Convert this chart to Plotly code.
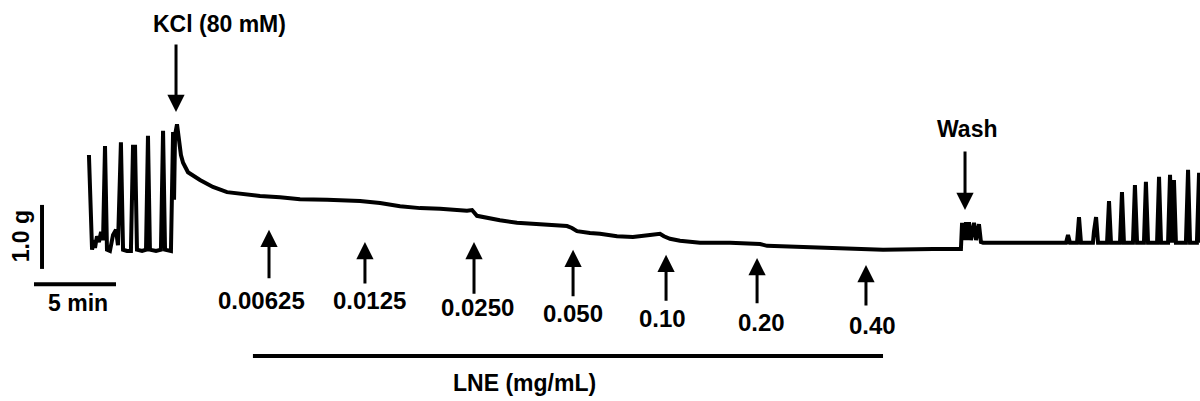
import plotly.graph_objects as go

# ---- isometric tension trace (time in min, tension in g above resting trough) ----
pre_t = [3.35, 3.54, 3.66, 3.72, 3.84, 3.96, 4.09, 4.21, 4.33, 4.45, 4.63, 4.82, 5.00, 5.12,
         5.30, 5.43, 5.67, 5.91, 6.04, 6.10, 6.16, 6.28, 6.59, 6.83, 6.95, 7.07, 7.44, 7.74,
         7.87, 7.99, 8.35, 8.48, 8.54, 8.60]
pre_g = [1.50, 0.02, 0.17, 0.05, 0.23, 0.14, 0.30, 0.17, 1.64, 0.02, 0.00, 0.25, 0.33, 0.09,
         1.70, 0.02, 0.00, 0.00, 1.66, 0.80, 1.66, 0.02, 0.00, 0.02, 1.80, 0.02, 0.00, 0.02,
         1.88, 0.02, 0.00, 1.86, 0.80, 1.81]

kcl_t = [8.72, 8.84, 8.96, 9.09, 9.39, 10.12, 10.91, 11.77, 12.87, 13.78, 15.00, 16.22, 17.87,
         19.88, 21.10, 22.32, 23.54, 24.76, 26.40, 26.71, 27.01, 27.50, 28.41, 29.45, 30.85,
         32.07, 32.50, 32.80, 33.11, 33.90, 34.51, 35.55, 36.52, 37.56, 38.17, 38.41, 38.78,
         39.39, 40.61, 42.44, 44.27, 44.70, 46.71, 48.72, 51.77, 54.82, 56.46]
kcl_g = [1.98, 1.73, 1.50, 1.38, 1.23, 1.11, 1.00, 0.92, 0.88, 0.86, 0.84, 0.81, 0.80,
         0.78, 0.75, 0.70, 0.67, 0.66, 0.63, 0.64, 0.55, 0.52, 0.48, 0.44, 0.41,
         0.39, 0.39, 0.36, 0.31, 0.28, 0.27, 0.23, 0.22, 0.25, 0.27, 0.23, 0.19,
         0.16, 0.13, 0.13, 0.11, 0.08, 0.06, 0.05, 0.02, 0.03, 0.03]

wash_t = [56.52, 56.59, 56.71, 56.83, 56.95, 57.01, 57.13, 57.32, 57.44, 57.62, 57.74, 57.87,
          62.93, 63.05, 63.17, 63.60, 63.72, 63.84, 64.57, 64.63, 64.76, 64.88, 65.43, 65.55,
          65.67, 66.22, 66.34, 66.46, 67.01, 67.13, 67.26, 67.68, 67.80, 67.93, 68.48, 68.60,
          68.72, 69.15, 69.27, 69.39, 69.51, 69.63, 70.24, 70.37, 70.49, 70.91, 71.04, 71.16]
wash_g = [0.03, 0.44, 0.17, 0.45, 0.17, 0.45, 0.17, 0.44, 0.17, 0.42, 0.14, 0.13,
          0.13, 0.25, 0.13, 0.13, 0.53, 0.13, 0.13, 0.30, 0.53, 0.13, 0.13, 0.78,
          0.13, 0.13, 0.92, 0.13, 0.13, 1.03, 0.13, 0.13, 1.08, 0.13, 0.13, 1.16,
          0.13, 0.13, 1.19, 0.13, 1.11, 0.13, 0.13, 1.27, 0.13, 0.13, 1.22, 0.13]

# ---- events ----
kcl_time = 8.66
wash_time = 56.77
dose_labels = ["0.00625", "0.0125", "0.0250", "0.050", "0.10", "0.20", "0.40"]
dose_times = [14.33, 20.18, 26.83, 32.87, 38.54, 44.09, 50.73]

# annotation layout (arrow tip / tail heights, label positions)
dose_tip_g = [0.33, 0.14, 0.14, 0.02, -0.06, -0.11, -0.22]
dose_tail_g = [-0.45, -0.53, -0.69, -0.73, -0.80, -0.84, -0.875]
dose_label_t = [13.90, 20.43, 27.07, 32.87, 38.35, 44.39, 51.10]
dose_label_g = [-0.78, -0.78, -0.89, -0.98, -1.06, -1.11, -1.17]

t_all = pre_t + kcl_t + wash_t
g_all = pre_g + kcl_g + wash_g

FONT = "Arial, Liberation Sans, sans-serif"
ARROW = dict(showarrow=True, arrowhead=2, arrowwidth=3, arrowsize=1.15,
             arrowcolor="black", standoff=0, text="")

fig = go.Figure()
fig.add_trace(go.Scatter(x=t_all, y=g_all, mode="lines",
                         line=dict(color="black", width=4), hoverinfo="skip",
                         showlegend=False))

ann = []
# KCl arrow and label
ann.append(dict(x=kcl_time, y=2.17, ax=kcl_time, ay=3.25, xref="x", yref="y",
                axref="x", ayref="y", **ARROW))
ann.append(dict(x=11.34, y=3.55, xref="x", yref="y", showarrow=False,
                text="<b>KCl (80 mM)</b>", font=dict(family=FONT, size=23, color="black")))
# Wash
ann.append(dict(x=wash_time, y=0.64, ax=wash_time, ay=1.58, xref="x", yref="y",
                axref="x", ayref="y", **ARROW))
ann.append(dict(x=56.95, y=1.91, xref="x", yref="y", showarrow=False,
                text="<b>Wash</b>", font=dict(family=FONT, size=23, color="black")))
# dose arrows
for lab, t, tip, tail, lt, lg in zip(dose_labels, dose_times, dose_tip_g, dose_tail_g,
                                     dose_label_t, dose_label_g):
    ann.append(dict(x=t, y=tip, ax=t, ay=tail, xref="x", yref="y", axref="x", ayref="y",
                    **ARROW))
    ann.append(dict(x=lt, y=lg, xref="x", yref="y", showarrow=False,
                    text="<b>" + lab + "</b>", font=dict(family=FONT, size=24, color="black")))
# LNE label
ann.append(dict(x=29.88, y=-2.06, xref="x", yref="y", showarrow=False,
                text="<b>LNE (mg/mL)</b>", font=dict(family=FONT, size=23, color="black")))
# scale bar labels
ann.append(dict(x=-0.79, y=0.23, xref="x", yref="y", showarrow=False, textangle=-90,
                text="<b>1.0 g</b>", font=dict(family=FONT, size=23, color="black")))
ann.append(dict(x=2.68, y=-0.81, xref="x", yref="y", showarrow=False,
                text="<b>5 min</b>", font=dict(family=FONT, size=23, color="black")))

shapes = [
    # LNE application bar
    dict(type="line", xref="x", yref="y", x0=13.35, x1=51.77, y0=-1.64, y1=-1.64,
         line=dict(color="black", width=4)),
    # 1.0 g scale bar
    dict(type="line", xref="x", yref="y", x0=0.49, x1=0.49, y0=-0.28, y1=0.72,
         line=dict(color="black", width=4)),
    # 5 min scale bar
    dict(type="line", xref="x", yref="y", x0=0.0, x1=5.0, y0=-0.52, y1=-0.52,
         line=dict(color="black", width=4)),
]

fig.update_layout(
    width=1200, height=401,
    margin=dict(l=0, r=0, t=0, b=0),
    paper_bgcolor="white", plot_bgcolor="white",
    xaxis=dict(range=[-2.073, 71.098], visible=False, fixedrange=True),
    yaxis=dict(range=[-2.344, 3.922], visible=False, fixedrange=True),
    annotations=ann, shapes=shapes, showlegend=False,
)

fig.write_html("out.html")
